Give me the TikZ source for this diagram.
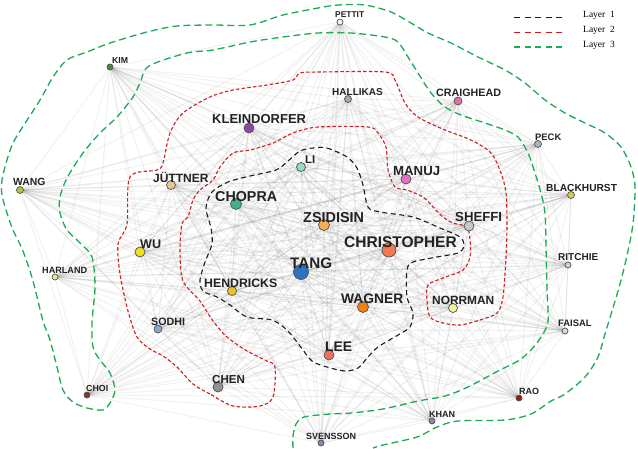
\documentclass[tikz,border=0pt]{standalone}
\usepackage{fontspec}
\setmainfont{Liberation Serif}
\newfontfamily\lblfont{Liberation Sans}
\pgfdeclarelayer{edgelayer}
\pgfdeclarelayer{contourlayer}
\pgfsetlayers{edgelayer,contourlayer,main}

\definecolor{cPettit}{HTML}{F4F4F4}
\definecolor{cKim}{HTML}{4E8A3E}
\definecolor{cHallikas}{HTML}{A8A8A8}
\definecolor{cCraighead}{HTML}{E070A8}
\definecolor{cKleindorfer}{HTML}{8E44A8}
\definecolor{cPeck}{HTML}{A9B4C2}
\definecolor{cLi}{HTML}{98D8C8}
\definecolor{cManuj}{HTML}{E070C8}
\definecolor{cWang}{HTML}{B8C040}
\definecolor{cJuttner}{HTML}{E6C898}
\definecolor{cBlackhurst}{HTML}{D0D050}
\definecolor{cChopra}{HTML}{40B08C}
\definecolor{cZsidisin}{HTML}{F4B050}
\definecolor{cSheffi}{HTML}{C8C8C8}
\definecolor{cChristopher}{HTML}{F27A50}
\definecolor{cWu}{HTML}{F0E020}
\definecolor{cTang}{HTML}{2F70C0}
\definecolor{cRitchie}{HTML}{D0D0D0}
\definecolor{cHarland}{HTML}{E8E890}
\definecolor{cHendricks}{HTML}{F0C020}
\definecolor{cWagner}{HTML}{F08010}
\definecolor{cNorrman}{HTML}{F2F2A0}
\definecolor{cSodhi}{HTML}{88AAD0}
\definecolor{cFaisal}{HTML}{D8D8D8}
\definecolor{cLee}{HTML}{F07060}
\definecolor{cChen}{HTML}{909090}
\definecolor{cChoi}{HTML}{8A3030}
\definecolor{cRao}{HTML}{A01818}
\definecolor{cKhan}{HTML}{8888AA}
\definecolor{cSvensson}{HTML}{8888AA}
\definecolor{lgreen}{HTML}{1DAA55}
\definecolor{lred}{HTML}{CC1F1F}
\definecolor{lblack}{HTML}{1A1A1A}
\definecolor{lbltext}{HTML}{222222}
\definecolor{vtxline}{HTML}{505050}

\newcommand\mynode[9]{%
  \node[vtx, minimum size={2*#4pt}, fill=#5] (#1) at (#2,#3) {};
  \node[lbl, font={\lblfont\bfseries\fontsize{#7}{#7}\selectfont}] (#1l) at ({#2+#8},{#3+#9+0.36*#7}) {#6};
}

\begin{document}
\begin{tikzpicture}[x=1pt,y=-1pt,
  vtx/.style={circle, draw=vtxline, line width=0.7pt, inner sep=0pt},
  lbl/.style={anchor=base west, inner sep=0pt, text=lbltext},
  edge/.style={draw=black, draw opacity=0.055, line width=1pt},
  layerthree/.style={draw=lgreen, line width=1.3pt, dash pattern=on 7pt off 4pt},
  layertwo/.style={draw=lred, line width=1.1pt, dash pattern=on 3.5pt off 2.2pt},
  layerone/.style={draw=lblack, line width=1.1pt, dash pattern=on 5pt off 3.5pt},
  legline/.style={line width=1.2pt, dash pattern=on 6pt off 4.5pt},
  legtext/.style={anchor=base west, inner sep=0pt, font=\fontsize{9.5}{9.5}\selectfont}]
\useasboundingbox (0,0) rectangle (638,448);

% nodes: name, x, y, r, colour, label, font size, dx, dy
\mynode{pettit}{340}{22}{3}{cPettit}{PETTIT}{8.4}{-5}{-8}
\mynode{kim}{110}{67}{3}{cKim}{KIM}{8.7}{2}{-7}
\mynode{hallikas}{348}{99}{3.5}{cHallikas}{HALLIKAS}{10}{-16}{-7}
\mynode{craighead}{458}{101}{4}{cCraighead}{CRAIGHEAD}{10.7}{-22}{-8}
\mynode{kleindorfer}{249}{128}{5}{cKleindorfer}{KLEINDORFER}{13}{-37}{-9}
\mynode{peck}{538}{144}{3.5}{cPeck}{PECK}{9.4}{-3}{-7}
\mynode{li}{301}{167}{4.5}{cLi}{LI}{11.3}{4}{-8}
\mynode{manuj}{406}{179}{5}{cManuj}{MANUJ}{13.2}{-13}{-8}
\mynode{wang}{20}{190}{3.5}{cWang}{WANG}{10.4}{-7}{-8}
\mynode{juttner}{171}{185}{4.5}{cJuttner}{JÜTTNER}{12}{-18}{-7}
\mynode{blackhurst}{571}{195}{3.5}{cBlackhurst}{BLACKHURST}{10.2}{-25}{-7}
\mynode{chopra}{236}{204}{5.5}{cChopra}{CHOPRA}{14.3}{-21}{-8}
\mynode{zsidisin}{324}{225}{5.5}{cZsidisin}{ZSIDISIN}{14.4}{-21}{-8}
\mynode{sheffi}{469}{226}{5}{cSheffi}{SHEFFI}{13.2}{-14}{-9}
\mynode{christopher}{389}{250}{7}{cChristopher}{CHRISTOPHER}{15.5}{-45}{-8}
\mynode{wu}{140}{252}{5}{cWu}{WU}{12.6}{0}{-8}
\mynode{tang}{301}{272}{7.5}{cTang}{TANG}{15.2}{-11}{-9}
\mynode{ritchie}{568}{265}{3}{cRitchie}{RITCHIE}{10}{-10}{-8}
\mynode{harland}{55}{277}{3}{cHarland}{HARLAND}{9.1}{-13}{-7}
\mynode{hendricks}{232}{291}{4.5}{cHendricks}{HENDRICKS}{12.3}{-28}{-8}
\mynode{wagner}{363}{307}{5.5}{cWagner}{WAGNER}{13.8}{-22}{-8}
\mynode{norrman}{453}{308}{4.5}{cNorrman}{NORRMAN}{11.9}{-21}{-8}
\mynode{sodhi}{158}{329}{4}{cSodhi}{SODHI}{10.7}{-7}{-7}
\mynode{faisal}{565}{331}{3}{cFaisal}{FAISAL}{9.4}{-7}{-8}
\mynode{lee}{329}{355}{5}{cLee}{LEE}{13.9}{-4}{-8.5}
\mynode{chen}{218}{387}{5}{cChen}{CHEN}{11.6}{-6}{-8}
\mynode{choi}{87}{395}{3}{cChoi}{CHOI}{8.8}{-1}{-7}
\mynode{rao}{519}{398}{3}{cRao}{RAO}{9}{0}{-7}
\mynode{khan}{432}{421}{3}{cKhan}{KHAN}{9}{-3}{-7}
\mynode{svensson}{321}{443}{3}{cSvensson}{SVENSSON}{9}{-15}{-7}

\def\allnodes{pettit,kim,hallikas,craighead,kleindorfer,peck,li,manuj,wang,juttner,blackhurst,chopra,zsidisin,sheffi,christopher,wu,tang,ritchie,harland,hendricks,wagner,norrman,sodhi,faisal,lee,chen,choi,rao,khan,svensson}

\begin{pgfonlayer}{edgelayer}
  \fill[white] (0,0) rectangle (638,448);
  \foreach \a [count=\i] in \allnodes {
    \foreach \b [count=\j] in \allnodes {
      \ifnum\j>\i \draw[edge] (\a) -- (\b); \fi
    }
  }
\end{pgfonlayer}

\begin{pgfonlayer}{contourlayer}
  % Layer 3 (green band, open at the bottom)
  \draw[layerthree] plot[smooth, tension=0.5] coordinates {
    (293,448) (293,436) (296,424) (304,417) (330,414) (351,413) (383,409)
    (418,401) (445,396) (468,387) (498,371) (518,361) (531,350) (541,337)
    (548,322) (547,290) (546,247) (545,213) (541,193) (535,173) (528,153)
    (518,137) (505,130) (485,123) (461,115) (445,107) (431,93) (418,73)
    (408,57) (398,42) (385,37) (351,33) (318,33) (283,37) (250,42) (213,50)
    (187,53) (149,66) (140,83) (133,97) (117,117) (100,133) (83,153)
    (67,178) (60,197) (60,213) (67,230) (80,243) (92,257) (95,287) (92,322)
    (93,347) (100,360) (110,373) (115,390) (110,403) (103,410) (87,408)
    (73,402) (63,390) (57,367) (50,340) (43,321) (33,281) (23,251) (13,230)
    (7,213) (2,195) (2,180) (7,160) (13,143) (22,128) (40,100) (53,77)
    (67,60) (87,52) (110,43) (147,32) (177,26) (213,25) (250,25) (283,15)
    (318,8) (338,5) (365,5) (391,12) (411,23) (428,33) (451,43) (478,57)
    (505,70) (525,83) (545,100) (565,113) (585,123) (605,133) (621,147)
    (631,167) (635,187) (633,224) (626,260) (618,291) (605,334) (598,357)
    (585,377) (565,394) (551,401) (531,414) (505,420) (458,421) (437,427)
    (417,437) (383,445) (373,448)};
  % Layer 2 (red)
  \draw[layertwo] plot[smooth cycle, tension=0.5] coordinates {
    (233,406) (210,394) (193,384) (177,367) (163,356) (150,349) (137,337)
    (128,311) (120,274) (118,244) (127,224) (130,177) (157,170) (163,163)
    (170,133) (183,113) (210,97) (233,90) (267,85) (293,80) (300,73)
    (320,72) (385,72) (395,80) (405,103) (418,117) (445,130) (471,140)
    (491,153) (501,173) (506,193) (507,224) (506,257) (503,297) (497,313)
    (480,320) (460,325) (443,323) (430,317) (427,300) (428,285) (443,278)
    (463,270) (470,257) (470,240) (467,227) (453,223) (443,217) (433,207)
    (423,197) (407,190) (395,187) (388,170) (386,147) (378,133) (368,127)
    (318,127) (293,133) (273,143) (250,150) (233,153) (220,167) (213,180)
    (200,190) (193,200) (188,217) (182,224) (180,251) (183,281) (200,301)
    (213,321) (227,337) (247,351) (267,361) (275,367) (273,397) (260,406)};
  % Layer 1 (black)
  \draw[layerone] plot[smooth cycle, tension=0.5] coordinates {
    (313,148) (327,148) (347,157) (357,168) (363,185) (368,207) (380,212)
    (413,217) (440,228) (460,237) (464,246) (458,253) (437,257) (413,262)
    (407,270) (407,297) (413,313) (410,327) (398,335) (378,347) (368,357)
    (358,368) (345,371) (327,367) (312,361) (300,346) (287,330) (272,320)
    (247,317) (230,305) (217,297) (203,291) (200,280) (205,262) (212,244)
    (211,228) (206,208) (212,192) (228,182) (250,176) (276,170) (288,161)
    (300,151)};
\end{pgfonlayer}

% legend
\coordinate (lg1a) at (514,17.7); \coordinate (lg1b) at (562,17.7);
\coordinate (lg2a) at (514,32.3); \coordinate (lg2b) at (562,32.3);
\coordinate (lg3a) at (514,47);   \coordinate (lg3b) at (562,47);
\draw[legline, draw=lblack] (lg1a) -- (lg1b);
\draw[legline, draw=lred] (lg2a) -- (lg2b);
\draw[legline, draw=lgreen] (lg3a) -- (lg3b);
\node[legtext] (leg1) at (583,17.7) {Layer\ \ 1};
\node[legtext] (leg2) at (583,32.3) {Layer\ \ 2};
\node[legtext] (leg3) at (583,47) {Layer\ \ 3};
\end{tikzpicture}
\end{document}
